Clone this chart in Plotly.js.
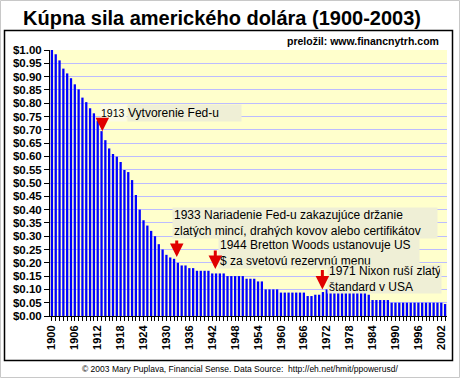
<!DOCTYPE html>
<html>
<head>
<meta charset="utf-8">
<script src="https://cdn.plot.ly/plotly-3.0.1.min.js"></script>
<style>html,body{margin:0;padding:0;background:#fff;}#chart{width:460px;height:378px;}</style>
</head>
<body>
<div id="chart"></div>
<script>
// Years 1900-2003
var years = [];
for (var yr = 1900; yr <= 2003; yr++) years.push(yr);

// Purchasing power of the US dollar (1900 = $1.00)
var power = [
  1.00, 0.984, 0.961, 0.93, 0.912, 0.894, 0.871, 0.852, 0.821, 0.804,   // 1900-1909
  0.781, 0.762, 0.734, 0.695, 0.661, 0.63, 0.609, 0.599, 0.579, 0.549,  // 1910-1919
  0.541, 0.511, 0.455, 0.40, 0.36, 0.34, 0.32, 0.30, 0.27, 0.25,       // 1920-1929
  0.23, 0.22, 0.215, 0.20, 0.19, 0.19, 0.18, 0.18, 0.17, 0.17,         // 1930-1939
  0.17, 0.17, 0.16, 0.16, 0.16, 0.16, 0.15, 0.15, 0.15, 0.15,          // 1940-1949
  0.15, 0.14, 0.14, 0.14, 0.13, 0.13, 0.10, 0.10, 0.10, 0.10,          // 1950-1959
  0.088, 0.088, 0.088, 0.088, 0.088, 0.088, 0.088, 0.075, 0.075, 0.08, // 1960-1969
  0.08, 0.09, 0.10, 0.10, 0.10, 0.10, 0.09, 0.09, 0.09, 0.09,          // 1970-1979
  0.10, 0.10, 0.10, 0.08, 0.06, 0.06, 0.06, 0.06, 0.06, 0.05,          // 1980-1989
  0.05, 0.05, 0.05, 0.05, 0.05, 0.05, 0.05, 0.05, 0.05, 0.05,          // 1990-1999
  0.05, 0.05, 0.05, 0.045                                              // 2000-2003
];

var yTicks = [0,0.05,0.10,0.15,0.20,0.25,0.30,0.35,0.40,0.45,0.50,0.55,0.60,0.65,0.70,0.75,0.80,0.85,0.90,0.95,1.00];
var yTickText = ["$0.00","$0.05","$0.10","$0.15","$0.20","$0.25","$0.30","$0.35","$0.40","$0.45","$0.50",
                 "$0.55","$0.60","$0.65","$0.70","$0.75","$0.80","$0.85","$0.90","$0.95","$1.00"];
var xTicks = [1900,1906,1912,1918,1924,1930,1936,1942,1948,1954,1960,1966,1972,1978,1984,1990,1996,2002];

var titleText = "Kúpna sila amerického dolára (1900-2003)";
var creditText = "preložil: www.financnytrh.com";
var footerText = "© 2003 Mary Puplava, Financial Sense. Data Source:  http://eh.net/hmit/ppowerusd/";

var events = [
  {year: 1913.2, tip: 0.695},
  {year: 1932.7, tip: 0.222},
  {year: 1942.8, tip: 0.177},
  {year: 1970.85, tip: 0.100}
];

var F = "Arial, 'Liberation Sans', sans-serif";
var boxBg = "#efefd6";

// pixel -> paper helpers (plot area: x 50..447, y 50..316)
function px(v){ return (v-50)/397; }
function py(v){ return (316-v)/266; }

var trace = {
  type: "bar",
  x: years,
  y: power,
  marker: {color: "#0000ff", line: {width: 0}},
  hoverinfo: "skip"
};

var anns = [
  {xref:"paper", yref:"paper", x:px(222), y:py(18), xanchor:"center", yanchor:"middle",
   text:"<b>"+titleText+"</b>", showarrow:false,
   font:{family:F, size:20, color:"#000"}},
  {xref:"paper", yref:"paper", x:px(441), y:py(41), xanchor:"right", yanchor:"middle",
   text:"<b>"+creditText+"</b>", showarrow:false, font:{family:F, size:10.5, color:"#000"}},
  {xref:"paper", yref:"paper", x:px(240), y:py(369), xanchor:"center", yanchor:"middle",
   text:footerText, showarrow:false, font:{family:F, size:8.5, color:"#000"}},
  // 1913 label
  {xref:"paper", yref:"paper", x:px(127), y:py(104), xanchor:"left", yanchor:"top",
   text:"Vytvorenie Fed-u", showarrow:false, font:{family:F, size:12, color:"#000"},
   bgcolor:boxBg, borderpad:0, width:113, height:16, align:"left", valign:"middle"},
  {xref:"paper", yref:"paper", x:px(100), y:py(104), xanchor:"left", yanchor:"top",
   text:"1913", showarrow:false, font:{family:F, size:10.5, color:"#000"},
   bgcolor:"#fbfbe6", borderpad:0, width:25, height:16, align:"left", valign:"middle"},
  // 1933
  {xref:"paper", yref:"paper", x:px(172), y:py(207), xanchor:"left", yanchor:"top",
   text:"1933 Nariadenie Fed-u zakazujúce držanie<br>zlatých mincí, drahých kovov alebo certifikátov",
   showarrow:false, font:{family:F, size:12, color:"#000"},
   bgcolor:boxBg, borderpad:1, width:262, height:28, align:"left"},
  // 1944
  {xref:"paper", yref:"paper", x:px(218), y:py(237), xanchor:"left", yanchor:"top",
   text:"1944 Bretton Woods ustanovuje US<br>$ za svetovú rezervnú menu",
   showarrow:false, font:{family:F, size:12, color:"#000"},
   bgcolor:boxBg, borderpad:1, width:198, height:28, align:"left"},
  // 1971
  {xref:"paper", yref:"paper", x:px(327), y:py(264), xanchor:"left", yanchor:"top",
   text:"1971 Nixon ruší zlatý<br>štandard v USA",
   showarrow:false, font:{family:F, size:12, color:"#000"},
   bgcolor:boxBg, borderpad:1, width:111, height:26, align:"left"}
];

var arrowLens = [12, 18, 20, 21];
events.forEach(function(e, i){
  anns.push({x:e.year, y:e.tip, xref:"x", yref:"y", text:"", showarrow:true,
    ax:0, ay:-arrowLens[i], arrowcolor:"#e00000", arrowwidth:3, arrowhead:2, arrowsize:0.9, standoff:0});
});

var layout = {
  width: 460, height: 378,
  margin: {l:50, r:13, t:50, b:62, pad:0},
  paper_bgcolor: "#ffffff",
  plot_bgcolor: "#ffffcc",
  bargap: 0.4,
  showlegend: false,
  font: {family: F, color:"#000"},
  xaxis: {
    range: [1899.5, 2003.5],
    tickmode: "array", tickvals: xTicks, ticktext: xTicks.map(String),
    tickangle: -90,
    tickfont: {family:F, size:11, color:"#000", weight:"bold"},
    ticks: "outside", ticklen: 4, tickcolor:"#000", tickwidth:1,
    minor: {dtick:1, tick0:1900, ticks:"outside", ticklen:4, tickcolor:"#000", showgrid:false},
    showline: true, linecolor: "#000", linewidth: 1,
    showgrid: false, zeroline: false, fixedrange: true
  },
  yaxis: {
    range: [0, 1.0],
    tickmode: "array", tickvals: yTicks, ticktext: yTickText,
    tickfont: {family:F, size:11.5, color:"#000", weight:"bold"},
    ticks: "outside", ticklen: 5, tickcolor:"#000",
    showline: true, linecolor:"#000", linewidth: 1,
    showgrid: true, gridcolor: "#bcbcff", gridwidth: 1,
    zeroline: false, fixedrange: true
  },
  shapes: [
    {type:"rect", xref:"paper", yref:"paper",
     x0:px(4.5), x1:px(452.5), y0:py(360.5), y1:py(30.5),
     line:{color:"#000", width:1.5}, fillcolor:"rgba(0,0,0,0)", layer:"below"},
    {type:"rect", xref:"paper", yref:"paper",
     x0:px(0.5), x1:px(459.5), y0:py(377.5), y1:py(0.5),
     line:{color:"#c8c8c8", width:1}, fillcolor:"rgba(0,0,0,0)", layer:"below"}
  ],
  annotations: anns
};

Plotly.newPlot("chart", [trace], layout, {staticPlot:true, displayModeBar:false});
</script>
</body>
</html>
